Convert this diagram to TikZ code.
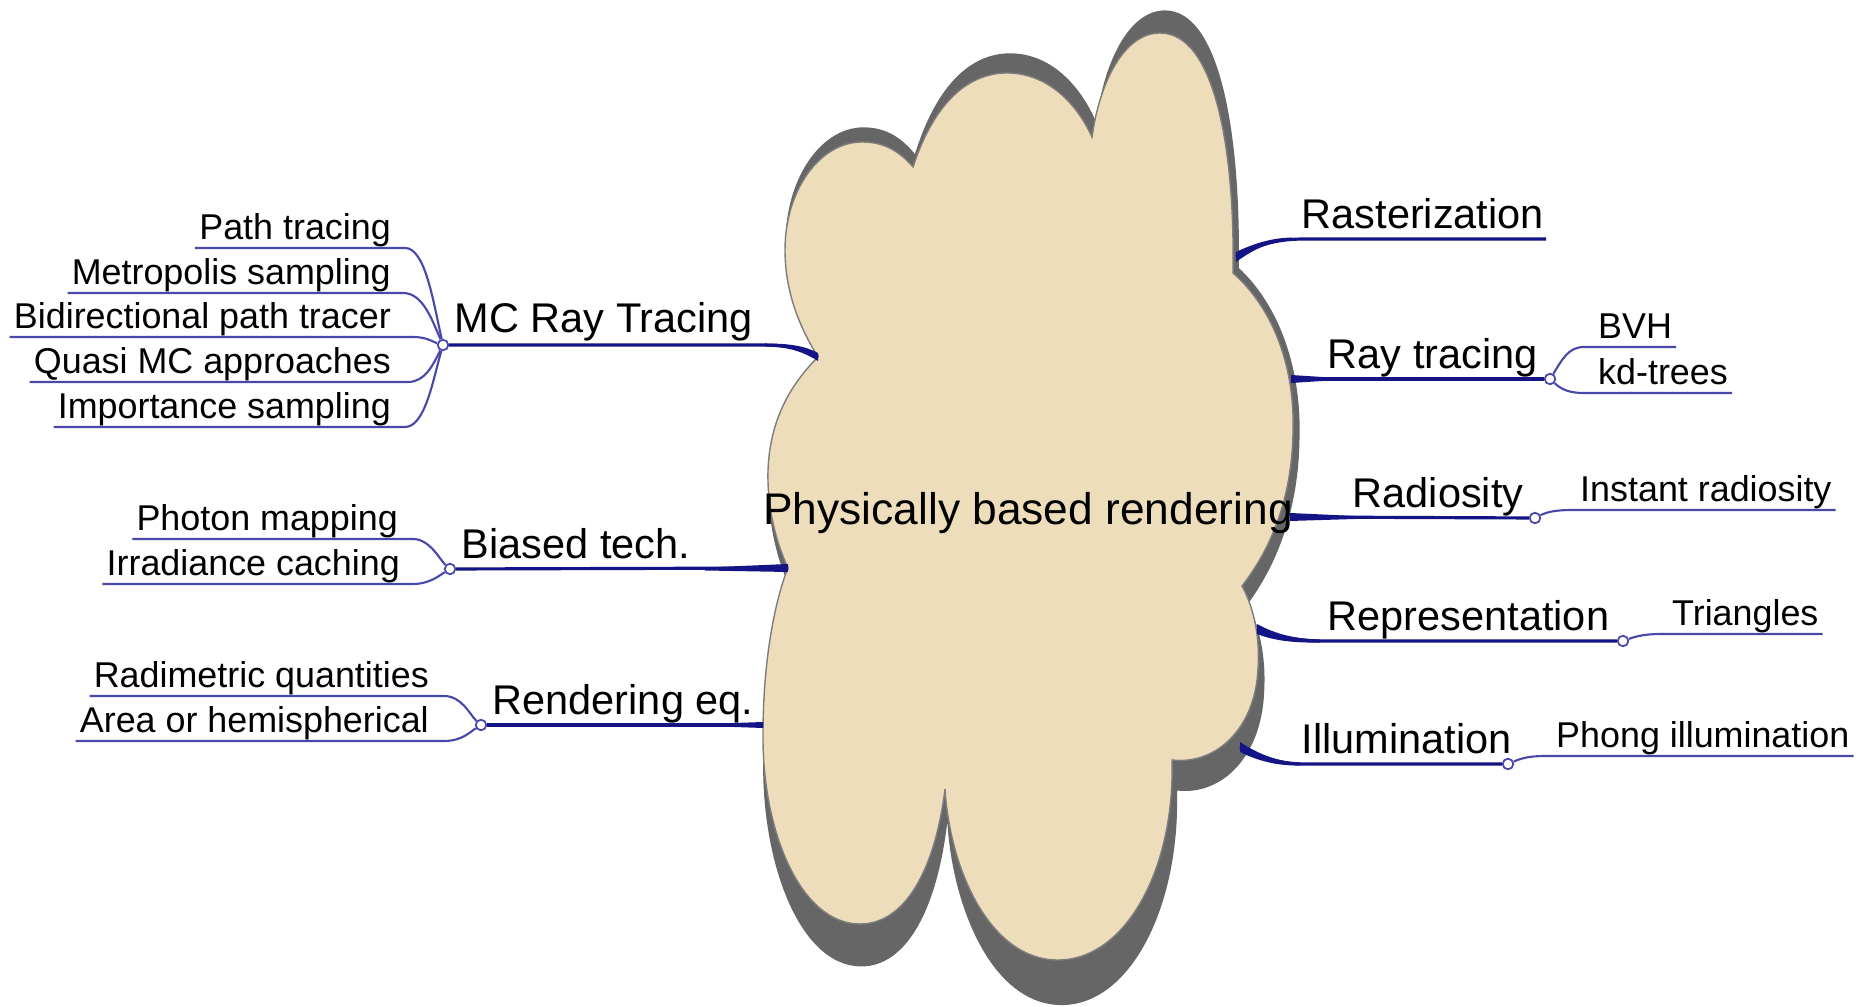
\documentclass[tikz,border=0pt]{standalone}
\usepackage{fontspec}
\setmainfont{Liberation Sans}
\definecolor{cloudfill}{RGB}{238,221,187}
\definecolor{cloudshadow}{RGB}{102,102,102}
\definecolor{cloudrim}{RGB}{125,125,125}
\definecolor{branchblue}{RGB}{20,20,135}
\definecolor{leafblue}{RGB}{72,72,170}
\newcommand{\cloudoutline}{(913,167) .. controls (935,100) and (970,73) .. (1007,73)
    .. controls (1045,73) and (1075,100) .. (1092,137)
    .. controls (1100,80) and (1125,33) .. (1160,33)
    .. controls (1215,33) and (1235,150) .. (1233,273)
    .. controls (1275,310) and (1295,370) .. (1293,432)
    .. controls (1292,500) and (1270,550) .. (1242,586)
    .. controls (1255,610) and (1260,640) .. (1258,669)
    .. controls (1255,730) and (1215,765) .. (1172,760)
    .. controls (1175,870) and (1125,960) .. (1058,960)
    .. controls (990,960) and (950,870) .. (945,789)
    .. controls (935,870) and (905,924) .. (860,924)
    .. controls (800,924) and (762,830) .. (763,734)
    .. controls (763,660) and (775,600) .. (788,568)
    .. controls (775,540) and (767,505) .. (768,470)
    .. controls (770,420) and (790,385) .. (818,357)
    .. controls (795,320) and (785,285) .. (785,250)
    .. controls (785,190) and (820,142) .. (862,142)
    .. controls (885,142) and (900,152) .. (913,167) -- cycle}
\begin{document}
\begin{tikzpicture}[x=0.01cm,y=-0.01cm,
    leaf/.style={inner xsep=1pt,inner ysep=0pt,text depth=2.3pt,font=\fontsize{10.2}{12}\selectfont},
    topic/.style={inner sep=0pt,anchor=base west,font=\fontsize{11.8}{14}\selectfont},
    knot/.style={circle,draw=leafblue,fill=white,line width=0.5pt,inner sep=0pt,minimum size=3pt},
    branch/.style={draw=branchblue,line width=0.9pt},
    taper/.style={fill=branchblue},
    twig/.style={draw=leafblue,line width=0.6pt}]
            \fill[white] (0,0) rectangle (1858,1007);
            \fill[cloudshadow,shift={(-9,-25)},xscale=1.012,yscale=1.073] \cloudoutline;
            \filldraw[fill=cloudfill,draw=cloudrim,line width=0.4pt] \cloudoutline;

            \node[knot] (mcrtdot) at (443,345) {};
            \node[topic] (mcrt) at (454,333) {MC Ray Tracing};
            \coordinate (mcrtend) at (818,357);
            \draw[branch] (mcrtdot) -- (760,345) .. controls (790,345) and (805,349) .. (mcrtend);
            \fill[taper] (765,343.5) .. controls (790,343.5) and (805,346) .. (818,353)
                -- (818,361) .. controls (805,353) and (790,346.5) .. (765,346.5) -- cycle;
            \node[leaf,anchor=south east] (pathtr) at (395,248) {Path tracing};
            \node[leaf,anchor=south east] (metro) at (395,293) {Metropolis sampling};
            \node[leaf,anchor=south east] (bidir) at (395,337) {Bidirectional path tracer};
            \node[leaf,anchor=south east] (quasi) at (395,382) {Quasi MC approaches};
            \node[leaf,anchor=south east] (impsmp) at (395,427) {Importance sampling};
            \draw[twig] (pathtr.south west) -- (405,248) .. controls (425,248) and (433,300) .. (mcrtdot);
            \draw[twig] (metro.south west) -- (403,293) .. controls (423,293) and (432,320) .. (mcrtdot);
            \draw[twig] (bidir.south west) -- (413,337) .. controls (427,337) and (433,342) .. (mcrtdot);
            \draw[twig] (quasi.south west) -- (408,382) .. controls (425,382) and (433,365) .. (mcrtdot);
            \draw[twig] (impsmp.south west) -- (405,427) .. controls (425,427) and (433,380) .. (mcrtdot);

            \node[knot] (biaseddot) at (450,569) {};
            \node[topic] (biased) at (461,559) {Biased tech.};
            \coordinate (biasedend) at (788,568);
            \draw[branch] (biaseddot) -- (biasedend);
            \fill[taper] (705,567.5) -- (788,564) -- (788,572) -- (705,570.5) -- cycle;
            \node[leaf,anchor=south east] (photon) at (402,539) {Photon mapping};
            \node[leaf,anchor=south east] (irrad) at (404,584) {Irradiance caching};
            \draw[twig] (photon.south west) -- (413,539) .. controls (430,539) and (440,560) .. (biaseddot);
            \draw[twig] (irrad.south west) -- (413,584) .. controls (430,584) and (440,575) .. (biaseddot);

            \node[knot] (rendeqdot) at (481,725) {};
            \node[topic] (rendeq) at (492,715) {Rendering eq.};
            \coordinate (rendeqend) at (763,725);
            \draw[branch] (rendeqdot) -- (rendeqend);
            \fill[taper] (720,723.5) -- (763,722) -- (763,728) -- (720,726.5) -- cycle;
            \node[leaf,anchor=south east] (radim) at (433,696) {Radimetric quantities};
            \node[leaf,anchor=south east] (areahemi) at (433,741) {Area or hemispherical};
            \draw[twig] (radim.south west) -- (444,696) .. controls (462,696) and (470,715) .. (rendeqdot);
            \draw[twig] (areahemi.south west) -- (444,741) .. controls (462,741) and (470,732) .. (rendeqdot);

            \node[topic] (raster) at (1301,229) {Rasterization};
            \coordinate (rasterend) at (1236,257);
            \coordinate (rastertip) at (1546,239);
            \draw[branch] (rasterend) .. controls (1260,243) and (1280,239) .. (1305,239) -- (rastertip);
            \fill[taper] (1236,252) .. controls (1255,243) and (1272,238) .. (1292,237.5)
                -- (1292,240.5) .. controls (1272,241) and (1255,248) .. (1236,262) -- cycle;

            \node[topic] (raytr) at (1327,369) {Ray tracing};
            \node[knot] (raytrdot) at (1550,379) {};
            \coordinate (raytrend) at (1291,379);
            \draw[branch] (raytrend) -- (raytrdot);
            \fill[taper] (1291,375) -- (1330,377.5) -- (1330,380.5) -- (1291,383) -- cycle;
            \node[leaf,anchor=south west] (bvh) at (1594,347) {BVH};
            \node[leaf,anchor=south west] (kdtree) at (1594,393) {kd-trees};
            \draw[twig] (raytrdot) .. controls (1562,360) and (1568,347) .. (1584,347) -- (bvh.south east);
            \draw[twig] (raytrdot) .. controls (1562,390) and (1570,393) .. (1584,393) -- (kdtree.south east);

            \node[topic] (radio) at (1352,508) {Radiosity};
            \node[knot] (radiodot) at (1535,518) {};
            \coordinate (radioend) at (1290,517);
            \draw[branch] (radioend) -- (radiodot);
            \fill[taper] (1290,513) -- (1355,516) -- (1355,519) -- (1290,521) -- cycle;
            \node[leaf,anchor=south west] (instrad) at (1576,510) {Instant radiosity};
            \draw[twig] (radiodot) .. controls (1547,512) and (1555,510) .. (1573,510) -- (instrad.south east);

            \node[topic] (repr) at (1327,631) {Representation};
            \node[knot] (reprdot) at (1623,641) {};
            \coordinate (reprend) at (1257,629);
            \draw[branch] (reprend) .. controls (1280,638) and (1300,641) .. (1325,641) -- (reprdot);
            \fill[taper] (1257,624) .. controls (1275,634) and (1295,639) .. (1320,639.5)
                -- (1320,642.5) .. controls (1295,643) and (1275,641) .. (1257,634) -- cycle;
            \node[leaf,anchor=south west] (triang) at (1668,634) {Triangles};
            \draw[twig] (reprdot) .. controls (1637,636) and (1645,634) .. (1662,634) -- (triang.south east);

            \node[topic] (illum) at (1301,754) {Illumination};
            \node[knot] (illumdot) at (1508,764) {};
            \coordinate (illumend) at (1240,747);
            \draw[branch] (illumend) .. controls (1262,758) and (1280,764) .. (1305,764) -- (illumdot);
            \fill[taper] (1240,742) .. controls (1258,754) and (1278,762) .. (1300,762.5)
                -- (1300,765.5) .. controls (1278,766) and (1258,761) .. (1240,752) -- cycle;
            \node[leaf,anchor=south west] (phong) at (1552,756) {Phong illumination};
            \draw[twig] (illumdot) .. controls (1522,758) and (1530,756) .. (1545,756) -- (phong.south east);

            \node[inner sep=0pt,anchor=base,font=\fontsize{12.6}{15}\selectfont] (pbr) at (1028,525) {Physically based rendering};
\end{tikzpicture}
\end{document}
